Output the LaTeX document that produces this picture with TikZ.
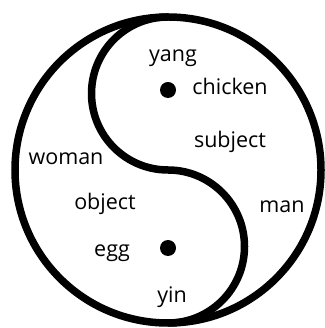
\documentclass[tikz,border=0pt]{standalone}
\usepackage{fontspec}
\setmainfont{Open Sans}
\begin{document}
\begin{tikzpicture}[x=1pt,y=1pt,
  stroke/.style={line width=7.5pt,black},
  lbl/.style={anchor=base,inner sep=0pt,font=\fontsize{21.5}{25}\selectfont},
  dot/.style={fill=black}]
\useasboundingbox (0,0) rectangle (324,328);
\fill[white] (0,0) rectangle (324,328);
% outer circle
\draw[stroke] (168,158) circle[radius=153];
% S-curve
\draw[stroke] (168,311) arc[start angle=90,end angle=270,radius=76.5]
  arc[start angle=90,end angle=-90,radius=76.5];
% dots
\fill[dot] (168,238) circle[radius=8];
\fill[dot] (168,80) circle[radius=8];
% labels
\node[lbl] (yang) at (173,266) {yang};
\node[lbl] (chicken) at (230,233) {chicken};
\node[lbl] (subject) at (230,180) {subject};
\node[lbl] (woman) at (66,163) {woman};
\node[lbl] (object) at (105,118) {object};
\node[lbl] (man) at (282,115) {man};
\node[lbl] (egg) at (112,71) {egg};
\node[lbl] (yin) at (172,25) {yin};
\end{tikzpicture}
\end{document}
